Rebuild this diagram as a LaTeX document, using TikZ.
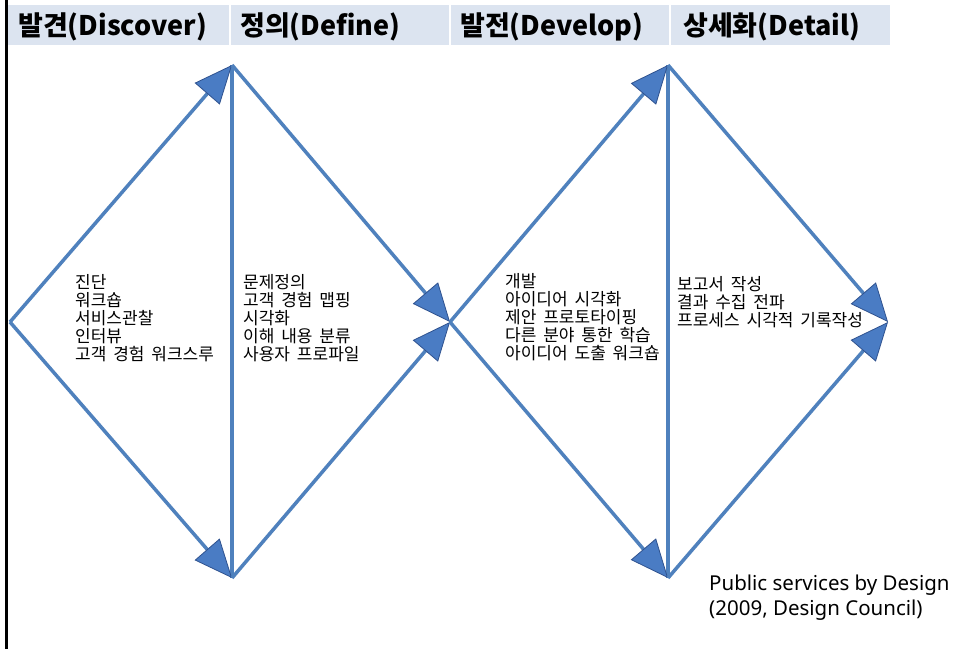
\documentclass[tikz,border=0pt]{standalone}
\usepackage{fontspec}
\setmainfont{Noto Sans CJK KR}
\newfontfamily\taskfont{Noto Sans CJK KR}[WordSpace=1.8]
\newfontfamily\latinfont{Noto Sans}
\usetikzlibrary{arrows.meta}

\definecolor{lineBlue}{HTML}{4F81BD}
\definecolor{tipBlue}{HTML}{4A7CC4}
\definecolor{tipEdge}{HTML}{2F528F}
\definecolor{bandBlue}{HTML}{DCE4F0}

\begin{document}
\begin{tikzpicture}[x=1pt,y=-1pt,
	flow/.style={line width=3.5pt, draw=lineBlue, -{Triangle[length=38pt,width=33pt,fill=tipBlue,color=tipEdge,line width=0.8pt]}},
	plain/.style={line width=3.5pt, draw=lineBlue},
	phase/.style={anchor=west, inner sep=0pt, font=\fontsize{27}{29}\selectfont\bfseries},
	task/.style={anchor=north west, inner sep=0pt, align=left, font=\taskfont\fontsize{17}{18}\selectfont}]
	\useasboundingbox (0,0) rectangle (961,649);
	\fill[white] (0,0) rectangle (961,649);
	\draw[line width=3pt] (6,0)--(6,649);

	% header band
	\fill[bandBlue] (8,5) rectangle (890,45);
	\foreach \sx in {230,450,670}
		\draw[white, line width=1.5pt] (\sx,5)--(\sx,45);
	\node[phase] (discover) at (18,27) {발견(Discover)};
	\node[phase] (define) at (240,27) {정의(Define)};
	\node[phase] (develop) at (460,27) {발전(Develop)};
	\node[phase] (detail) at (683,27) {상세화(Detail)};

	% corners of the two diamonds
	\coordinate (start) at (10,322);
	\coordinate (top1) at (232,65);
	\coordinate (bot1) at (232,578);
	\coordinate (mid) at (450,322);
	\coordinate (top2) at (668,65);
	\coordinate (bot2) at (668,578);
	\coordinate (finish) at (888,322);

	\draw[plain] (top1)--(bot1);
	\draw[plain] (top2)--(bot2);
	\draw[flow] (start)--(top1);
	\draw[flow] (start)--(bot1);
	\draw[flow] (top1)--(mid);
	\draw[flow] (bot1)--(mid);
	\draw[flow] (mid)--(top2);
	\draw[flow] (mid)--(bot2);
	\draw[flow] (top2)--(finish);
	\draw[flow] (bot2)--(finish);

	\node[task] (discoverTasks) at (75,274) {진단\\워크숍\\서비스관찰\\인터뷰\\고객 경험 워크스루};
	\node[task] (defineTasks) at (243,274) {문제정의\\고객 경험 맵핑\\시각화\\이해 내용 분류\\사용자 프로파일};
	\node[task] (developTasks) at (505,273) {개발\\아이디어 시각화\\제안 프로토타이핑\\다른 분야 통한 학습\\아이디어 도출 워크숍};
	\node[task] (detailTasks) at (677,276) {보고서 작성\\결과 수집 전파\\프로세스 시각적 기록작성};

	\node[anchor=north west, inner sep=0pt, align=left, font=\latinfont\fontsize{20.5}{25}\selectfont] (source) at (709,575) {Public services by Design\\(2009, Design Council)};
\end{tikzpicture}
\end{document}
